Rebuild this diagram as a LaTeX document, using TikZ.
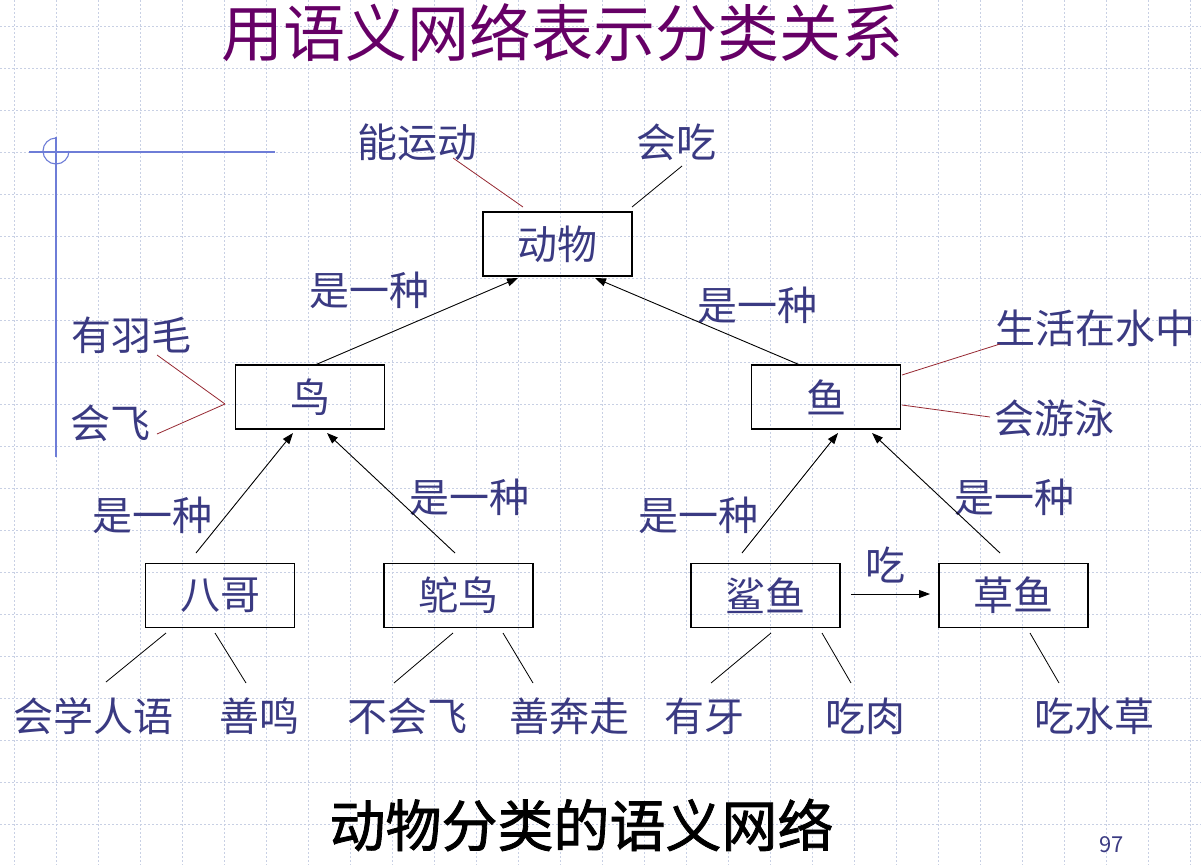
\documentclass[tikz,border=0pt]{standalone}
\usepackage{fontspec}
\setmainfont{Noto Sans CJK SC}
\newfontfamily\capfont[FakeBold=1.5]{Noto Sans CJK SC}
\usetikzlibrary{arrows.meta}
\definecolor{txtblue}{RGB}{58,58,130}
\definecolor{ttlpurple}{RGB}{102,0,102}
\definecolor{gridc}{RGB}{200,208,228}
\definecolor{decoc}{RGB}{110,125,215}
\definecolor{propred}{RGB}{150,40,50}
\tikzset{
  box/.style={draw=black,line width=1.2pt,minimum width=149pt,minimum height=64pt,inner sep=0pt,text=txtblue,font=\fontsize{40}{40}\selectfont},
  lbl/.style={inner sep=0pt,text=txtblue,font=\fontsize{40}{40}\selectfont},
  isa/.style={draw=black,line width=0.9pt,-{Triangle[length=11pt,width=8pt]}},
  prop/.style={draw=black,line width=0.8pt},
  rprop/.style={draw=propred,line width=0.8pt},
  gridline/.style={draw=gridc,line width=0.7pt,dash pattern=on 1.5pt off 2.5pt},
  deco/.style={draw=decoc,line width=1.1pt}
}
\begin{document}
\begin{tikzpicture}[x=1pt,y=-1pt]
\useasboundingbox (0,0) rectangle (1201,865);
\fill[white] (0,0) rectangle (1201,865);
% grid
\foreach \gx in {14,56,...,1200} {\draw[gridline] (\gx,0) -- (\gx,865);}
\foreach \gy in {26,68,...,864} {\draw[gridline] (0,\gy) -- (1201,\gy);}
% decoration
\draw[deco] (29,152) -- (275,152);
\draw[deco] (56,137) -- (56,457);
\draw[deco] (56,138) arc[start angle=-90,end angle=-360,radius=13];
% title
\node[inner sep=0pt,text=ttlpurple,font=\fontsize{62}{62}\selectfont] (title) at (562.5,33) {用语义网络表示分类关系};
% boxes
\node[box] (animal) at (557.5,244) {动物};
\node[box] (bird) at (310,397) {鸟};
\node[box] (fish) at (826,397) {鱼};
\node[box] (myna) at (220,595.5) {八哥};
\node[box] (ostrich) at (458.5,595.5) {鸵鸟};
\node[box] (shark) at (765.5,595.5) {鲨鱼};
\node[box] (carp) at (1013.5,595.5) {草鱼};
% labels
\node[lbl] (nyd) at (417.5,142) {能运动};
\node[lbl] (hc) at (676,142) {会吃};
\node[lbl] (isa1) at (369,290) {是一种};
\node[lbl] (isa2) at (757.5,305) {是一种};
\node[lbl] (yym) at (131,335) {有羽毛};
\node[lbl] (hf) at (110,423) {会飞};
\node[lbl] (shz) at (1095,328) {生活在水中};
\node[lbl] (hyy) at (1054,418) {会游泳};
\node[lbl] (isa3) at (152,515) {是一种};
\node[lbl] (isa4) at (469,497) {是一种};
\node[lbl] (isa5) at (698,515) {是一种};
\node[lbl] (isa6) at (1014,497) {是一种};
\node[lbl] (eat) at (885.5,565) {吃};
\node[lbl] (hxry) at (93.5,716) {会学人语};
\node[lbl] (sm) at (259,716) {善鸣};
\node[lbl] (bhf) at (407,716) {不会飞};
\node[lbl] (sbz) at (569,716) {善奔走};
\node[lbl] (yy) at (704,716) {有牙};
\node[lbl] (cr) at (865.5,716) {吃肉};
\node[lbl] (csc) at (1094,716) {吃水草};
% caption
\node[inner sep=0pt,text=black,font=\capfont\fontsize{56}{56}\selectfont] (cap) at (581.5,825) {动物分类的语义网络};
\node[inner sep=0pt,text=txtblue,font=\fontsize{22}{22}\selectfont] (pg) at (1111.5,845) {97};
% is-a arrows
\draw[isa] ([shift={(5,-32)}]bird.center) -- ([shift={(-39.5,34)}]animal.center);
\draw[isa] ([shift={(-26,-32)}]fish.center) -- ([shift={(37.5,34)}]animal.center);
\draw[isa] ([shift={(-24,-42.5)}]myna.center) -- ([shift={(-17,36)}]bird.center);
\draw[isa] ([shift={(-3.5,-42.5)}]ostrich.center) -- ([shift={(17,36)}]bird.center);
\draw[isa] ([shift={(-23.5,-42.5)}]shark.center) -- ([shift={(12,36)}]fish.center);
\draw[isa] ([shift={(-13.5,-42.5)}]carp.center) -- ([shift={(46,36)}]fish.center);
\draw[isa] ([shift={(85.5,-1.5)}]shark.center) -- ([shift={(-83.5,-1.5)}]carp.center);
% property lines
\draw[rprop] ([shift={(35.5,16)}]nyd.center) -- ([shift={(-34.5,-37)}]animal.center);
\draw[prop] ([shift={(6,24)}]hc.center) -- ([shift={(74.5,-37)}]animal.center);
\draw[rprop] ([shift={(26,20)}]yym.center) -- ([shift={(-85,7)}]bird.center);
\draw[rprop] ([shift={(47,11)}]hf.center) -- ([shift={(-85,7)}]bird.center);
\draw[rprop] ([shift={(76,-22)}]fish.center) -- ([shift={(-95,16)}]shz.center);
\draw[rprop] ([shift={(76,8)}]fish.center) -- ([shift={(-64,-1)}]hyy.center);
\draw[prop] ([shift={(-54,37.5)}]myna.center) -- ([shift={(12.5,-34)}]hxry.center);
\draw[prop] ([shift={(-5,37.5)}]myna.center) -- ([shift={(-13,-33)}]sm.center);
\draw[prop] ([shift={(-5.5,37.5)}]ostrich.center) -- ([shift={(-13,-33)}]bhf.center);
\draw[prop] ([shift={(44.5,37.5)}]ostrich.center) -- ([shift={(-36,-33)}]sbz.center);
\draw[prop] ([shift={(5.5,37.5)}]shark.center) -- ([shift={(7,-33)}]yy.center);
\draw[prop] ([shift={(56.5,37.5)}]shark.center) -- ([shift={(-14.5,-33)}]cr.center);
\draw[prop] ([shift={(16.5,37.5)}]carp.center) -- ([shift={(-35,-33)}]csc.center);
\end{tikzpicture}
\end{document}
